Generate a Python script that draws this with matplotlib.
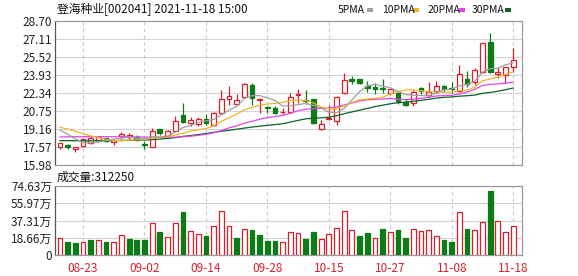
import matplotlib
matplotlib.use("Agg")
import matplotlib.pyplot as plt
from matplotlib.patches import Rectangle
import numpy as np

plt.rcParams['font.family'] = ['Noto Sans CJK SC', 'DejaVu Sans']

# ---------------- data ----------------
title = "登海种业[002041] 2021-11-18 15:00"
date_labels = ["08-23", "09-02", "09-14", "09-28", "10-15", "10-27", "11-08", "11-18"]
date_label_idx = [3, 11, 19, 27, 35, 43, 51, 59]

opens = [17.60, 17.77, 17.36, 17.66, 17.90, 18.13, 18.34, 18.01, 18.54, 18.43,
         18.43, 17.82, 17.60, 19.13, 18.54, 19.01, 20.40, 19.72, 19.60, 20.05,
         19.49, 20.55, 21.78, 21.34, 22.01, 23.05, 21.72, 21.10, 21.04, 20.65,
         20.69, 22.13, 21.72, 21.78, 19.19, 20.02, 19.90, 22.37, 23.60, 23.55,
         23.00, 22.90, 22.78, 22.37, 22.31, 21.57, 21.48, 22.81, 22.16, 22.55,
         22.96, 22.81, 22.52, 23.55, 23.31, 24.22, 26.85, 23.99, 23.93, 24.61]
highs = [17.95, 17.80, 17.60, 18.30, 18.54, 18.57, 18.40, 18.30, 18.92, 18.85,
         18.60, 18.12, 19.22, 19.15, 19.05, 20.31, 21.48, 20.25, 20.20, 20.45,
         20.69, 22.60, 22.99, 22.23, 23.25, 23.20, 21.87, 21.15, 21.15, 21.05,
         22.30, 22.67, 22.60, 21.85, 19.96, 21.28, 22.07, 24.13, 23.84, 23.60,
         23.40, 23.20, 23.55, 22.80, 22.46, 21.78, 22.60, 22.90, 23.34, 23.43,
         23.05, 23.34, 24.81, 24.28, 24.52, 26.78, 27.67, 24.66, 24.66, 26.29]
lows = [17.37, 17.41, 17.13, 17.55, 17.83, 18.01, 18.00, 17.75, 18.25, 18.15,
        18.13, 17.37, 17.55, 18.60, 18.50, 18.96, 19.72, 19.43, 19.43, 19.50,
        19.43, 20.46, 21.28, 21.28, 21.96, 21.28, 20.55, 20.55, 20.50, 20.50,
        20.60, 21.48, 21.37, 19.60, 19.07, 19.96, 19.51, 22.25, 23.13, 23.10,
        22.45, 22.23, 22.37, 22.20, 21.37, 21.20, 21.20, 22.25, 22.02, 22.37,
        22.46, 22.37, 22.43, 22.84, 23.05, 24.08, 24.13, 23.64, 23.20, 24.22]
closes = [17.92, 17.58, 17.55, 18.25, 18.34, 18.48, 18.07, 18.19, 18.74, 18.60,
          18.19, 17.75, 18.98, 18.78, 18.98, 19.90, 19.80, 19.93, 20.05, 19.68,
          20.55, 21.78, 22.07, 21.72, 23.13, 21.87, 21.78, 21.05, 20.55, 20.70,
          22.00, 22.25, 21.60, 19.66, 19.57, 20.16, 22.00, 23.49, 23.43, 23.20,
          22.75, 22.70, 22.67, 22.67, 21.66, 21.28, 22.46, 22.55, 22.46, 22.96,
          22.72, 22.70, 23.99, 23.13, 24.37, 26.73, 24.22, 24.22, 24.61, 25.25]

ma5 = [19.07, 18.70, 18.30, 17.95, 17.93, 18.04, 18.14, 18.27, 18.36, 18.42,
       18.36, 18.29, 18.45, 18.46, 18.54, 18.88, 19.29, 19.48, 19.73, 19.87,
       20.00, 20.40, 20.83, 21.16, 21.85, 22.11, 22.11, 21.91, 21.68, 21.19,
       21.22, 21.31, 21.42, 21.24, 21.02, 20.65, 20.60, 20.98, 21.73, 22.46,
       22.97, 23.11, 22.95, 22.80, 22.49, 22.20, 22.15, 22.12, 22.08, 22.34,
       22.63, 22.68, 22.97, 23.10, 23.38, 24.18, 24.49, 24.53, 24.83, 25.01]
ma10 = [19.31, 19.15, 18.95, 18.75, 18.55, 18.40, 18.25, 18.15, 18.12, 18.17,
        18.20, 18.22, 18.36, 18.41, 18.48, 18.62, 18.79, 18.97, 19.10, 19.20,
        19.44, 19.84, 20.15, 20.45, 20.86, 21.06, 21.26, 21.37, 21.42, 21.52,
        21.67, 21.71, 21.67, 21.46, 21.10, 20.93, 20.95, 21.20, 21.49, 21.74,
        21.81, 21.86, 21.96, 22.26, 22.47, 22.59, 22.63, 22.54, 22.44, 22.42,
        22.41, 22.41, 22.55, 22.59, 22.86, 23.41, 23.58, 23.75, 23.97, 24.19]
ma20 = [18.46, 18.47, 18.48, 18.48, 18.49, 18.49, 18.48, 18.48, 18.47, 18.47,
        18.46, 18.45, 18.44, 18.43, 18.43, 18.44, 18.47, 18.52, 18.60, 18.69,
        18.82, 19.03, 19.26, 19.43, 19.67, 19.84, 20.02, 20.17, 20.26, 20.36,
        20.55, 20.78, 20.91, 20.95, 20.98, 21.00, 21.11, 21.28, 21.45, 21.63,
        21.74, 21.78, 21.81, 21.86, 21.79, 21.76, 21.79, 21.87, 21.96, 22.08,
        22.11, 22.13, 22.25, 22.43, 22.67, 23.00, 23.11, 23.14, 23.20, 23.31]
ma30 = [18.13, 18.13, 18.12, 18.12, 18.12, 18.13, 18.13, 18.14, 18.15, 18.16,
        18.17, 18.18, 18.22, 18.27, 18.33, 18.40, 18.50, 18.58, 18.67, 18.76,
        18.86, 18.96, 19.05, 19.14, 19.24, 19.33, 19.41, 19.48, 19.55, 19.63,
        19.77, 19.92, 20.06, 20.11, 20.15, 20.20, 20.33, 20.51, 20.67, 20.82,
        20.97, 21.14, 21.26, 21.39, 21.48, 21.53, 21.61, 21.70, 21.78, 21.89,
        21.96, 21.99, 22.06, 22.10, 22.15, 22.31, 22.39, 22.50, 22.63, 22.78]

# volume in 万 (10k shares)
volumes = [18.3, 13.6, 12.6, 14.4, 16.5, 16.1, 13.6, 14.4, 21.5, 17.6,
           16.5, 16.5, 34.8, 24.4, 19.4, 34.8, 46.6, 26.2, 23.0, 20.8,
           31.6, 47.7, 31.6, 18.7, 28.3, 27.3, 21.9, 14.7, 15.4, 14.4,
           24.8, 23.7, 17.2, 24.8, 17.2, 23.0, 29.1, 47.4, 26.9, 20.8,
           24.0, 18.3, 28.0, 24.8, 26.9, 18.3, 28.0, 25.8, 26.9, 20.5,
           16.5, 14.4, 46.3, 28.0, 26.9, 35.5, 68.9, 36.6, 24.8, 31.225]
vol_up = [1, 0, 0, 1, 0, 1, 0, 1, 1, 0,
          0, 0, 1, 0, 1, 1, 0, 1, 1, 0,
          1, 1, 1, 0, 1, 0, 0, 0, 0, 1,
          1, 1, 0, 0, 1, 1, 1, 1, 1, 0,
          0, 1, 0, 1, 0, 0, 1, 1, 1, 1,
          0, 0, 1, 0, 1, 1, 0, 1, 1, 1]

price_ticks = [15.98, 17.57, 19.16, 20.75, 22.34, 23.93, 25.52, 27.11, 28.70]
vol_ticks = [0, 18.66, 37.31, 55.97, 74.63]
vol_tick_labels = ["0", "18.66万", "37.31万", "55.97万", "74.63万"]
last_volume_text = "成交量:312250"

ma_names = ["5PMA", "10PMA", "20PMA", "30PMA"]

# ---------------- style ----------------
RED = "#dc1e2c"
GREEN = "#0c7c16"
GRID = "#d4d4d4"
FRAME = "#9a9a9a"
ma_colors = ["#a0a0a0", "#f0b428", "#e646e6", "#0a6428"]

W, H = 578, 276
fig = plt.figure(figsize=(W / 100, H / 100), dpi=100)
fig.patch.set_facecolor("white")


def fx(px):
    return px / W


def fy(py):
    return 1 - py / H


ax = fig.add_axes([fx(55), fy(165), fx(522) - fx(55), fy(21) - fy(165)])
axv = fig.add_axes([fx(55), fy(255), fx(522) - fx(55), fy(186) - fy(255)])

n = len(closes)
x = np.arange(n)
xlim = (-0.65, 60.15)
bw = 0.62

for a in (ax, axv):
    a.set_xlim(*xlim)
    for s in a.spines.values():
        s.set_color(FRAME)
        s.set_linewidth(0.9)
    a.spines['left'].set_color("#555555")
    a.tick_params(axis='both', length=0, labelsize=8.5, colors="#222222", pad=2)
    for xi in date_label_idx:
        a.axvline(xi, color="#c8c8c8", lw=0.8, ls=(0, (3, 3)), zorder=0)

# price panel
ax.set_ylim(price_ticks[0], price_ticks[-1])
ax.set_yticks(price_ticks)
ax.set_yticklabels([f"{v:.2f}" for v in price_ticks])
ax.set_xticks([])
for v in price_ticks[1:-1]:
    ax.axhline(v, color=GRID, lw=0.8, zorder=0)

for i in range(n):
    o, h, l, c = opens[i], highs[i], lows[i], closes[i]
    up = c >= o
    col = RED if up else GREEN
    ax.vlines(x[i], l, h, color=col, lw=0.9, zorder=3)
    body_h = max(abs(c - o), 0.04)
    ax.bar(x[i], body_h, bottom=min(o, c), width=bw,
           facecolor="white" if up else GREEN, edgecolor=col, lw=0.9, zorder=4)

for vals, colr in zip([ma30, ma20, ma10, ma5], ma_colors[::-1]):
    ax.plot(x, vals, color=colr, lw=0.9, zorder=5)

# volume panel
axv.set_ylim(0, vol_ticks[-1])
axv.set_yticks(vol_ticks)
axv.set_yticklabels(vol_tick_labels)
axv.set_xticks(date_label_idx)
axv.set_xticklabels(date_labels, color=RED)
axv.tick_params(axis='x', pad=5)
for v in vol_ticks[1:-1]:
    axv.axhline(v, color=GRID, lw=0.8, zorder=0)
for i in range(n):
    up = vol_up[i] == 1
    col = RED if up else GREEN
    axv.bar(x[i], volumes[i], width=bw, facecolor="white" if up else GREEN,
            edgecolor=col, lw=0.9, zorder=3)

# texts
fig.text(fx(57), fy(10), title, fontsize=8.5, va="center", ha="left", color="#111111")
fig.text(fx(57), fy(177), last_volume_text, fontsize=8.5, va="center", ha="left", color="#111111")

legend_x = [338, 382, 428, 472]
for name, colr, lx in zip(ma_names, ma_colors, legend_x):
    t = fig.text(fx(lx), fy(10), name, fontsize=7.5, va="center", ha="left", color="#111111")
legend_sw = [367, 413, 459, 505]
for colr, sx in zip(ma_colors, legend_sw):
    fig.patches.append(Rectangle((fx(sx), fy(11.5)), fx(6), fy(8) - fy(11.5) if False else 3.5 / H,
                                 transform=fig.transFigure, facecolor=colr, edgecolor="none"))

fig.savefig("out.png", dpi=100)
